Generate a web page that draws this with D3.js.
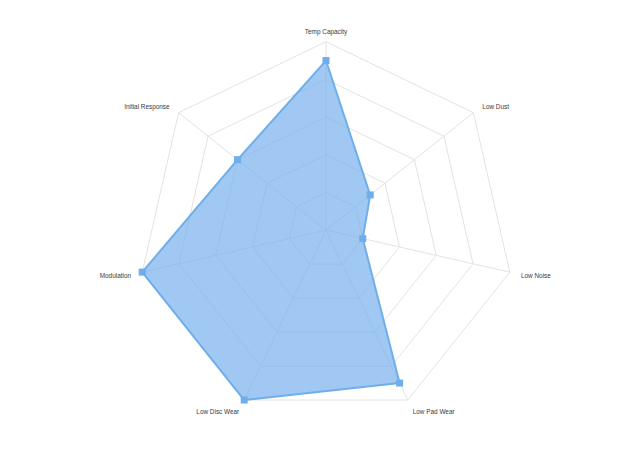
<!DOCTYPE html>
<html><head><meta charset="utf-8">
<script src="https://cdn.jsdelivr.net/npm/d3@7"></script>
<style>body{margin:0;background:#fff}svg{display:block}</style>
</head><body>
<svg id="chart" width="640" height="464"></svg>
<script>
const categories = ["Temp Capacity","Low Dust","Low Noise","Low Pad Wear","Low Disc Wear","Modulation","Initial Response"];
const values = [0.9, 0.3, 0.2, 0.9, 1.0, 1.0, 0.6];
const levels = [0.2, 0.4, 0.6, 0.8, 1.0];

const svg = d3.select("#chart");
const cx = 326, cy = 230.2, R = 188.5, labelR = 200;
const n = categories.length;
const r = d3.scaleLinear().domain([0, 1]).range([0, R]);
const ang = d3.scaleLinear().domain([0, n]).range([0, 2 * Math.PI]);
const pt = (i, v) => [cx + r(v) * Math.sin(ang(i)), cy - r(v) * Math.cos(ang(i))];

const g = svg.append("g");
// grid polygons
g.selectAll("polygon.grid").data(levels).join("polygon")
  .attr("class", "grid")
  .attr("points", lv => d3.range(n).map(i => pt(i, lv).join(",")).join(" "))
  .attr("fill", "none").attr("stroke", "#e3e3e3").attr("stroke-width", 1);
// axis lines
g.selectAll("line.axis").data(categories).join("line")
  .attr("class", "axis")
  .attr("x1", cx).attr("y1", cy)
  .attr("x2", (d, i) => pt(i, 1)[0]).attr("y2", (d, i) => pt(i, 1)[1])
  .attr("stroke", "#e3e3e3").attr("stroke-width", 1);

// data area
const line = d3.lineRadial().angle((d, i) => ang(i)).radius(d => r(d)).curve(d3.curveLinearClosed);
g.append("path").datum(values)
  .attr("transform", `translate(${cx},${cy})`)
  .attr("d", line)
  .attr("fill", "rgba(120,176,236,0.7)")
  .attr("stroke", "#6eaeea").attr("stroke-width", 2).attr("stroke-linejoin", "round");

// markers
g.selectAll("rect.mk").data(values).join("rect")
  .attr("class", "mk")
  .attr("x", (d, i) => pt(i, d)[0] - 3.5).attr("y", (d, i) => pt(i, d)[1] - 3.5)
  .attr("width", 7).attr("height", 7)
  .attr("fill", "#6eaeea");

// labels
g.selectAll("text.lbl").data(categories).join("text")
  .attr("class", "lbl")
  .attr("x", (d, i) => cx + labelR * Math.sin(ang(i)))
  .attr("y", (d, i) => cy - labelR * Math.cos(ang(i)) + 1)
  .attr("text-anchor", (d, i) => {
    const s = Math.sin(ang(i));
    return Math.abs(s) < 0.01 ? "middle" : (s > 0 ? "start" : "end");
  })
  .attr("dominant-baseline", "central")
  .attr("font-family", "Liberation Sans, Arial, sans-serif")
  .attr("font-size", 6.4)
  .attr("fill", "#3a3a3a")
  .text(d => d);
</script>
</body></html>
